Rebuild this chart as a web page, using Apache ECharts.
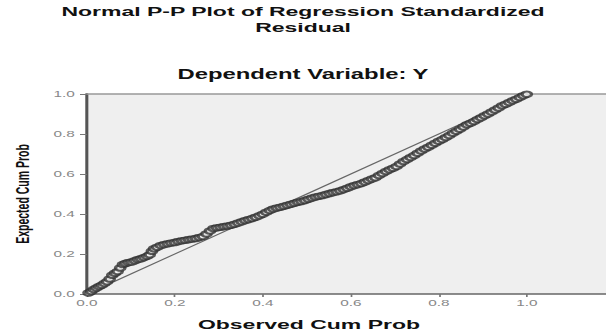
<!DOCTYPE html>
<html>
<head>
<meta charset="utf-8">
<script src="https://cdn.jsdelivr.net/npm/echarts@6/dist/echarts.min.js"></script>
<style>
html,body{margin:0;padding:0;background:#fff;overflow:hidden;}
#chart{width:356px;height:336px;transform:scaleX(1.7022);transform-origin:0 0;}
</style>
</head>
<body>
<div id="chart"></div>
<script>
const titleLines = ['Normal P-P Plot of Regression Standardized', 'Residual'];
const subTitle = 'Dependent Variable: Y';
const xName = 'Observed Cum Prob';
const yName = 'Expected Cum Prob';
const xTicks = [0.0, 0.2, 0.4, 0.6, 0.8, 1.0];
const yTicks = [0.0, 0.2, 0.4, 0.6, 0.8, 1.0];
const refLine = [[0, 0], [1, 1]];
const obsProb = [0.004,0.010,0.016,0.022,0.028,0.034,0.040,0.046,0.052,0.058,0.064,0.070,0.076,0.082,0.088,0.095,0.102,0.109,0.116,0.123,0.130,0.137,0.143,0.148,0.153,0.160,0.168,0.176,0.184,0.192,0.200,0.208,0.216,0.224,0.232,0.240,0.248,0.256,0.264,0.272,0.280,0.288,0.296,0.304,0.312,0.320,0.328,0.336,0.344,0.352,0.360,0.368,0.376,0.384,0.392,0.400,0.408,0.416,0.424,0.432,0.440,0.448,0.456,0.464,0.472,0.480,0.488,0.496,0.504,0.512,0.520,0.528,0.536,0.544,0.552,0.560,0.568,0.576,0.584,0.592,0.600,0.608,0.616,0.624,0.632,0.640,0.648,0.656,0.664,0.672,0.680,0.688,0.696,0.704,0.712,0.720,0.728,0.736,0.744,0.752,0.760,0.768,0.776,0.784,0.792,0.800,0.808,0.816,0.824,0.832,0.840,0.848,0.856,0.864,0.872,0.880,0.888,0.896,0.904,0.912,0.920,0.928,0.936,0.944,0.952,0.960,0.968,0.976,0.984,0.992,1.000];
const expProb = [0.005,0.012,0.022,0.030,0.037,0.044,0.052,0.061,0.075,0.094,0.104,0.113,0.130,0.148,0.153,0.157,0.160,0.166,0.172,0.176,0.182,0.189,0.196,0.214,0.226,0.234,0.242,0.247,0.251,0.255,0.258,0.262,0.266,0.269,0.272,0.275,0.278,0.282,0.288,0.300,0.315,0.327,0.331,0.334,0.337,0.340,0.344,0.349,0.355,0.361,0.367,0.372,0.378,0.384,0.391,0.399,0.409,0.418,0.425,0.430,0.434,0.439,0.444,0.449,0.454,0.459,0.463,0.468,0.474,0.480,0.485,0.489,0.493,0.498,0.503,0.507,0.511,0.516,0.522,0.529,0.536,0.542,0.547,0.553,0.560,0.567,0.575,0.581,0.592,0.602,0.612,0.621,0.629,0.638,0.650,0.662,0.673,0.682,0.693,0.704,0.715,0.725,0.734,0.744,0.754,0.764,0.773,0.782,0.792,0.804,0.814,0.824,0.835,0.846,0.854,0.863,0.873,0.881,0.891,0.900,0.910,0.920,0.930,0.941,0.949,0.957,0.966,0.974,0.983,0.991,0.999];

const points = obsProb.map((x, i) => [x, expProb[i]]);
const FONT = 'Liberation Sans, Arial, sans-serif';
const titleStyle = {fontFamily: FONT, fontWeight: 'bold', fontSize: 13.5, color: '#111'};

const chart = echarts.init(document.getElementById('chart'), null, {renderer: 'svg', devicePixelRatio: 1});
chart.setOption({
  backgroundColor: '#ffffff',
  animation: false,
  title: [
    {text: titleLines[0], left: 'center', top: 4, padding: 0, textStyle: titleStyle},
    {text: titleLines[1], left: 'center', top: 20, padding: 0, textStyle: titleStyle},
    {text: subTitle, left: 'center', top: 62,
     textStyle: {fontFamily: FONT, fontWeight: 'bold', fontSize: 14, color: '#111'}}
  ],
  grid: {left: 44, right: 0, top: 94, bottom: 32, show: true, backgroundColor: '#efefef', borderWidth: 0},
  xAxis: [{
    type: 'value', min: 0, max: 1.18, position: 'bottom',
    name: xName, nameLocation: 'middle', nameGap: 23,
    nameTextStyle: {fontFamily: FONT, fontWeight: 'bold', fontSize: 13.5, color: '#111', padding: [0, 44, 0, 0]},
    axisLine: {show: true, lineStyle: {color: '#666', width: 1.6}},
    axisTick: {show: true, length: 3, customValues: xTicks, lineStyle: {color: '#777'}},
    axisLabel: {show: true, customValues: xTicks, margin: 5, fontFamily: FONT, fontSize: 9, color: '#888',
      formatter: v => v.toFixed(1)},
    splitLine: {show: false}
  }, {
    type: 'value', min: 0, max: 1.18, position: 'top',
    axisLine: {show: true, lineStyle: {color: '#999', width: 1.5}},
    axisTick: {show: false}, axisLabel: {show: false}, splitLine: {show: false}
  }],
  yAxis: {
    type: 'value', min: 0, max: 1,
    name: yName, nameLocation: 'middle', nameGap: 32, nameRotate: 90,
    nameTextStyle: {fontFamily: FONT, fontWeight: 'bold', fontSize: 10.5, color: '#111'},
    axisLine: {show: true, lineStyle: {color: '#555', width: 1.8}},
    axisTick: {show: true, length: 4, customValues: yTicks, lineStyle: {color: '#777'}},
    axisLabel: {show: true, customValues: yTicks, margin: 7, fontFamily: FONT, fontSize: 9, color: '#888',
      formatter: v => v.toFixed(1)},
    splitLine: {show: false}
  },
  series: [
    {type: 'line', data: refLine, xAxisIndex: 0, showSymbol: false, symbol: 'none',
     lineStyle: {color: '#666', width: 1}, silent: true, z: 2},
    {type: 'scatter', data: points, xAxisIndex: 0, symbol: 'emptyCircle', symbolSize: 5.5,
     itemStyle: {color: '#333', borderColor: '#333', borderWidth: 1}, z: 3}
  ]
});
</script>
</body>
</html>
